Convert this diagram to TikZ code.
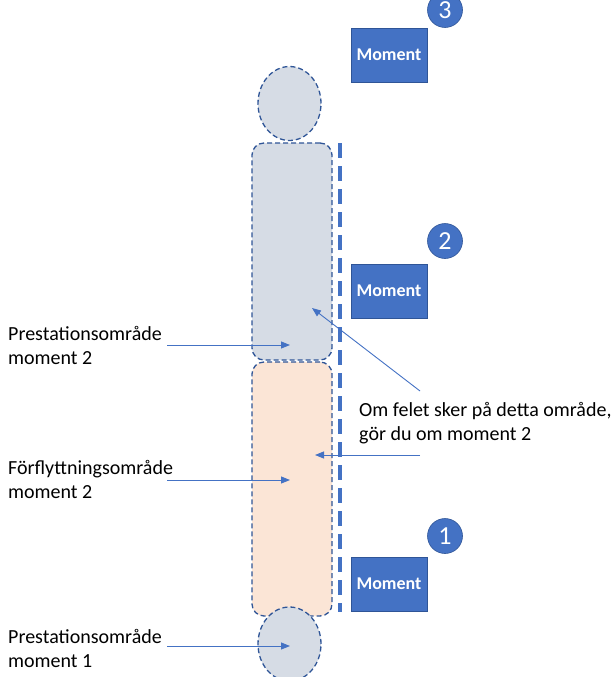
\documentclass[tikz,border=0pt]{standalone}
\usepackage{fontspec}
\setmainfont{Carlito}
\usetikzlibrary{shapes.geometric,arrows.meta}
\definecolor{accent}{HTML}{4472C4}
\definecolor{darkblue}{HTML}{2F5597}
\definecolor{greyblue}{HTML}{D6DCE5}
\definecolor{peach}{HTML}{FBE5D6}
\tikzset{
  zone/.style={draw=darkblue, line width=1.3pt, dash pattern=on 5pt off 3pt},
  headshape/.style={zone, ellipse, fill=greyblue, minimum width=63pt, minimum height=74pt, inner sep=0pt},
  bodyshape/.style={zone, rectangle, rounded corners=12pt, minimum width=80pt, inner sep=0pt},
  momentbox/.style={draw=darkblue, line width=0.8pt, fill=accent, minimum width=76pt, minimum height=54pt, inner sep=0pt, text=white, font=\fontsize{18}{20}\selectfont\bfseries},
  numcircle/.style={circle, fill=accent, draw=darkblue, line width=0.6pt, minimum size=35pt, inner sep=0pt, text=white, font=\fontsize{26}{28}\selectfont},
  lbl/.style={align=left, inner sep=0pt, font=\fontsize{20}{24}\selectfont},
  pointer/.style={draw=accent, line width=0.9pt, -{Triangle[length=9pt,width=7pt]}},
}
\begin{document}
\begin{tikzpicture}[x=1pt,y=-1pt]
\useasboundingbox (0,0) rectangle (611,677);
% figure
\node[headshape] (head) at (289.5,103.5) {};
\node[bodyshape, fill=greyblue, minimum height=217pt] (upper) at (292,251.5) {};
\node[bodyshape, fill=peach, minimum height=254pt] (lower) at (292,489) {};
\node[headshape] (foot) at (289.5,644) {};
% boundary line
\coordinate (ltop) at (340,143);
\coordinate (lbot) at (340,612);
\draw[accent, line width=3.6pt, dash pattern=on 15pt off 8pt] (ltop) -- (lbot);
% moment boxes and numbers
\node[momentbox] (m3) at (389,55) {Moment};
\node[momentbox] (m2) at (389,291) {Moment};
\node[momentbox] (m1) at (389,584) {Moment};
\node[numcircle] (n3) at (445,10) {3};
\node[numcircle] (n2) at (445,241) {2};
\node[numcircle] (n1) at (445,536) {1};
% labels
\node[lbl, anchor=west] (l2) at (8,345) {Prestationsområde\\moment 2};
\node[lbl, anchor=west] (l3) at (8,479) {Förflyttningsområde\\moment 2};
\node[lbl, anchor=west] (l1) at (8,648) {Prestationsområde\\moment 1};
\node[lbl, anchor=west] (note) at (359,423) {Om felet sker på detta område,\\gör du om moment 2};
% arrows
\coordinate (a2s) at (167,345); \coordinate (a2e) at (290,345);
\coordinate (a3s) at (167,480); \coordinate (a3e) at (290,480);
\coordinate (a1s) at (167,646); \coordinate (a1e) at (290,646);
\coordinate (d1s) at (420,391); \coordinate (d1e) at (312,308);
\coordinate (d2s) at (420,455); \coordinate (d2e) at (315,455);
\draw[pointer] (a2s) -- (a2e);
\draw[pointer] (a3s) -- (a3e);
\draw[pointer] (a1s) -- (a1e);
\draw[pointer] (d1s) -- (d1e);
\draw[pointer] (d2s) -- (d2e);
\end{tikzpicture}
\end{document}
